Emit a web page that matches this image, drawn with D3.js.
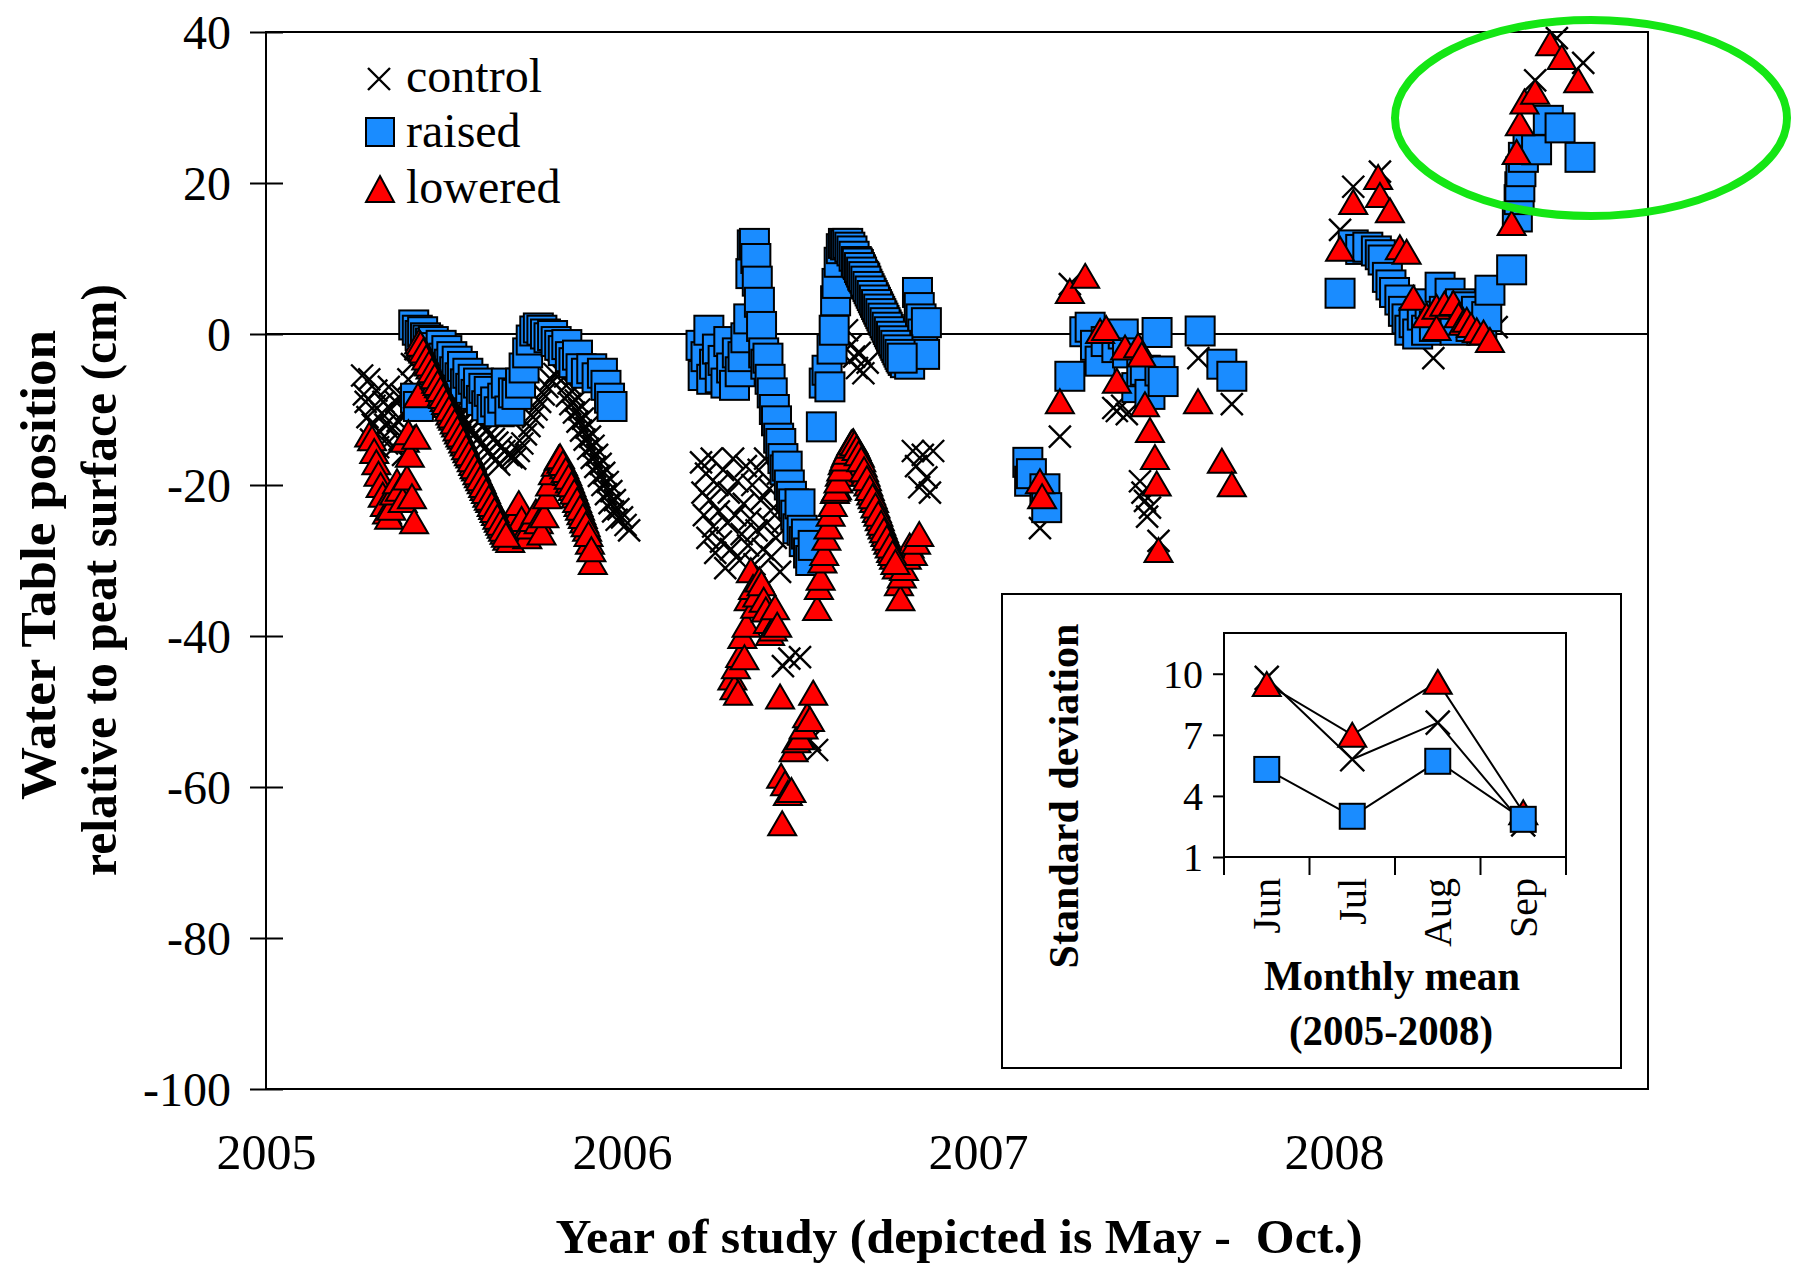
<!DOCTYPE html>
<html><head><meta charset="utf-8">
<script src="https://cdn.jsdelivr.net/npm/d3@7"></script>
<style>html,body{margin:0;padding:0;background:#fff}svg{display:block}</style>
</head><body>
<script>
// ---------------- DATA (t = fraction of year added to the season year; v = cm) ----------------
const years = [2005, 2006, 2007, 2008];
const yTicks = [-100, -80, -60, -40, -20, 0, 20, 40];
const seriesNames = ["control", "raised", "lowered"];

const control2005 = [[.270,-5.5],[.275,-8],[.280,-9],[.285,-11],[.290,-6],[.295,-14],[.300,-12],[.305,-9.5],[.310,-7.5],[.315,-15],[.320,-13],[.325,-10.5],[.330,-9],[.335,-12],[.340,-14.5],[.345,-7],[.350,-10],[.355,-12.5],[.360,-15],[.365,-9],[.370,-11.5],[.375,-14],[.380,-8],[.385,-16],[.390,-13.5],[.395,-10],[.400,-6],[.410,-4],[.420,-2],[.430,-0.5],[.440,0.3],[.450,-0.5],[.460,-1.5],[.470,-2.3],[.480,-3.2],[.490,-4],[.500,-4.8],[.510,-5.5],[.520,-6.2],[.530,-7],[.540,-7.8],[.550,-8.5],[.560,-9.2],[.570,-9.8],[.580,-10.4],[.590,-11],[.600,-11.6],[.610,-12.2],[.620,-12.8],[.630,-13.3],[.640,-13.9],[.650,-14.4],[.660,-15],[.670,-15.5],[.680,-16],[.690,-16.3],[.700,-16.5],[.710,-15.5],[.720,-14.5],[.730,-13.3],[.740,-12.2],[.750,-11],[.760,-10],[.770,-9],[.780,-8],[.790,-7],[.800,-6],[.810,-5.3],[.820,-4.8],[.830,-5],[.840,-5.6],[.850,-6.5],[.860,-7.6],[.870,-8.8],[.880,-10],[.890,-11.2],[.900,-12.4],[.910,-13.6],[.920,-14.8],[.930,-16],[.940,-17.2],[.950,-18.4],[.960,-19.6],[.970,-20.8],[.980,-22],[.990,-23.2],[1.000,-24.3],[1.010,-25.3],[1.020,-26],
  [.445,-2.5],[.455,-3.5],[.465,-4.3],[.475,-5.2],[.485,-6],[.495,-6.8],[.505,-7.6],[.515,-8.3],[.525,-9],[.535,-9.8],[.545,-10.6],[.555,-11.3],[.565,-12],[.575,-12.6],[.585,-13.3],[.595,-13.9],[.605,-14.5],[.615,-15.1],[.625,-15.6],[.635,-16.2],[.645,-16.7],[.655,-17.3],
  [.845,-8.2],[.855,-9.3],[.865,-10.4],[.875,-11.6],[.885,-12.8],[.895,-14],[.905,-15.2],[.915,-16.4],[.925,-17.6],[.935,-18.8],[.945,-20],[.955,-21.2],[.965,-22.4],[.975,-23.5],[.985,-24.6]];
const raised2005 = [[.415,1.2],[.420,-8.5],[.425,0.5],[.428,-9.6],[.433,-0.2],[.440,0.3],[.448,-0.5],[.455,-0.8],[.462,-1.2],[.470,-1.0],[.478,-1.8],[.485,-2.5],[.492,-1.5],[.500,-3.2],[.508,-2.2],[.515,-4],[.522,-3],[.530,-5],[.537,-3.6],[.545,-5.8],[.552,-4.3],[.560,-6.6],[.567,-5.2],[.575,-7.2],[.582,-6],[.590,-8],[.597,-6.5],[.605,-8.8],[.612,-7.2],[.620,-9.5],[.627,-7.6],[.635,-10],[.645,-9],[.655,-10.3],[.665,-8.5],[.675,-6.5],[.685,-10.2],[.695,-7.8],[.705,-8],[.715,-6.5],[.725,-4.5],[.735,-2.5],[.745,-0.8],[.755,0.4],[.765,0.8],[.775,0.5],[.785,0.0],[.795,-0.5],[.805,-0.2],[.815,-1.0],[.825,-1.5],[.835,-2.2],[.845,-1.4],[.855,-3.0],[.865,-3.8],[.875,-2.8],[.885,-4.6],[.900,-5.2],[.915,-4.6],[.930,-5.8],[.945,-5.2],[.955,-6.8],[.965,-8.5],[.972,-9.6]];
const lowered2005 = [[.290,-13.3],[.298,-13.8],[.304,-15.5],[.310,-17],[.316,-18.5],[.322,-20],[.328,-21.3],[.334,-22.5],[.340,-23.5],[.346,-24.2],[.352,-23],[.360,-21],[.368,-19.5],[.376,-20.5],[.384,-22],[.390,-14],[.396,-19],[.400,-13],[.404,-16],[.410,-21.5],[.416,-24.8],[.422,-13.6],[.427,-8.1],[.430,-1.0],[.438,-1.9],[.446,-2.5],[.454,-3.6],[.462,-4.3],[.470,-5.1],[.478,-6.2],[.486,-6.8],[.494,-7.9],[.502,-8.6],[.510,-9.4],[.518,-10.4],[.526,-11.1],[.534,-12.0],[.542,-12.9],[.550,-13.6],[.558,-14.5],[.566,-15.4],[.574,-16.1],[.582,-17.1],[.590,-17.8],[.598,-18.7],[.606,-19.5],[.614,-20.4],[.622,-21.3],[.630,-22.0],[.638,-22.9],[.646,-23.7],[.654,-24.6],[.662,-25.4],[.670,-26.2],[.678,-27.0],[.686,-27.3],[.694,-26.0],[.702,-24.0],[.710,-22.4],[.718,-24.5],[.726,-26.2],[.734,-26.8],[.742,-25.5],[.750,-24.5],[.758,-23.5],[.766,-24.8],[.774,-26.3],[.782,-24.0],[.790,-21.5],[.798,-19.8],[.806,-18.3],[.814,-17.2],[.822,-16.4],[.830,-16.8],[.838,-17.5],[.846,-18.4],[.854,-19.4],[.862,-20.4],[.870,-21.4],[.878,-22.5],[.886,-23.6],[.894,-24.7],[.902,-25.8],[.910,-27.5],[.918,-30.2],
  [.434,-1.3],[.442,-2.2],[.450,-3.1],[.458,-3.9],[.466,-4.8],[.474,-5.6],[.482,-6.5],[.490,-7.3],[.498,-8.2],[.506,-9.0],[.514,-9.9],[.522,-10.8],[.530,-11.6],[.538,-12.5],[.546,-13.3],[.554,-14.1],[.562,-15.0],[.570,-15.8],[.578,-16.6],[.586,-17.5],[.594,-18.3],[.602,-19.1],[.610,-20.0],[.618,-20.8],[.626,-21.7],[.634,-22.5],[.642,-23.3],[.650,-24.2],[.658,-25.0],[.666,-25.8],[.674,-26.6],
  [.826,-16.2],[.834,-17.1],[.842,-18],[.850,-18.9],[.858,-19.9],[.866,-20.9],[.874,-22],[.882,-23],[.890,-24.1],[.898,-25.2],[.906,-26.5],[.914,-28.5]];

const control2006 = [[.222,-17],[.226,-21],[.230,-24],[.236,-18.5],[.240,-27],[.246,-22],[.252,-16.5],[.256,-25.5],[.262,-29],[.268,-20],[.272,-23.5],[.278,-27.5],[.284,-18],[.290,-31],[.296,-25],[.300,-21],[.306,-28.5],[.312,-16.5],[.318,-24],[.324,-19.5],[.330,-30],[.336,-26.5],[.342,-22.5],[.348,-17.5],[.354,-28],[.360,-24.5],[.366,-20],[.372,-30.5],[.378,-26],[.384,-18],[.390,-22],[.396,-28.5],[.402,-16.5],[.408,-25],[.414,-20.5],[.420,-29.5],[.426,-23],[.432,-27],[.438,-18.5],[.444,-31.5],[.450,-25],[.452,-44],[.470,-43],[.500,-42.8],[.528,-53.8],[.548,-55.1],[.632,0.5],[.642,-1.5],[.652,-3],[.660,-4.5],[.668,-2.5],[.678,-5.2],[.690,-3.8],[.817,-15.5],[.826,-17.5],[.835,-20.3],[.845,-16],[.855,-19],[.865,-21],[.874,-15.5]];
const raised2006 = [[.222,-1.5],[.228,-5.5],[.236,-3],[.244,0.5],[.252,-6],[.260,-4],[.268,-2],[.276,-5.8],[.284,-3.5],[.292,-6.5],[.300,-1.0],[.308,-4.5],[.316,-6.8],[.324,-2.5],[.332,-5.0],[.340,-3.0],[.348,-0.5],[.356,2.0],[.362,8.0],[.366,11.8],[.372,12.0],[.376,10.0],[.380,7.0],[.386,4.2],[.392,1.0],[.398,-2.5],[.404,-4.0],[.410,-3.2],[.416,-6.0],[.422,-7.8],[.428,-10.0],[.434,-11.5],[.440,-13.8],[.446,-14.5],[.452,-16.5],[.458,-18],[.464,-17.5],[.470,-20],[.476,-21.5],[.482,-22.5],[.488,-24],[.494,-25.8],[.500,-22.5],[.506,-26],[.512,-27.5],[.518,-26.5],[.524,-29],[.530,-30],[.537,-28],[.560,-12.3],[.568,-6.5],[.576,-4.8],[.584,-7],[.590,-2],[.596,0.5],[.600,4.4],[.604,6.7],[.610,9.5],[.616,11.3],[.622,12.0],[.628,11.8],[.634,12.0],[.640,11.5],[.646,11.0],[.652,10.3],[.658,9.6],[.664,9.2],[.670,8.5],[.676,7.8],[.682,7.4],[.688,6.6],[.694,6.0],[.700,5.4],[.706,4.8],[.712,4.2],[.718,3.6],[.724,3.0],[.730,2.4],[.736,1.8],[.742,1.2],[.748,0.6],[.754,0.0],[.760,-0.6],[.766,-1.2],[.772,-1.8],[.778,-2.4],[.784,-3.0],[.790,-3.5],[.796,-3.8],[.802,-2.5],[.808,-4.0],[.830,5.5],[.835,3.5],[.840,2.0],[.845,0.0],[.850,-2.7],[.855,1.5],
  [.661,9.4],[.667,8.8],[.673,8.2],[.679,7.6],[.685,7.0],[.691,6.3],[.697,5.7],[.703,5.1],[.709,4.5],[.715,3.9],[.721,3.3],[.727,2.7],[.733,2.1],[.739,1.5],[.745,0.9],[.751,0.3],[.757,-0.3],[.763,-0.9],[.769,-1.5],[.775,-2.1],[.781,-2.7],[.787,-3.2]];
const lowered2006 = [[.310,-45.5],[.316,-46.8],[.320,-44],[.326,-47.5],[.332,-42.5],[.338,-40],[.344,-42.8],[.350,-38.5],[.356,-35],[.362,-31.3],[.368,-33.5],[.374,-36],[.380,-34.5],[.386,-32.5],[.392,-33],[.398,-35.2],[.404,-36.5],[.410,-38],[.416,-39.6],[.424,-39],[.430,-36.2],[.436,-38.5],[.444,-48],[.447,-58.5],[.450,-64.8],[.458,-59.5],[.466,-60.8],[.476,-60.4],[.482,-55],[.490,-53.8],[.500,-53.4],[.510,-52],[.520,-50.5],[.528,-51],[.537,-47.5],[.548,-36.3],[.553,-33.5],[.558,-32.3],[.563,-30],[.568,-29],[.574,-27],[.580,-25.5],[.586,-23.8],[.592,-22.5],[.598,-20.8],[.604,-20.3],[.612,-18.5],[.620,-17],[.628,-16],[.636,-15.2],[.644,-14.4],[.650,-14.2],[.656,-14.8],[.662,-15.5],[.668,-16],[.676,-17.3],[.684,-18.5],[.692,-19.8],[.700,-21],[.708,-22],[.716,-23.3],[.724,-24.4],[.732,-25.5],[.740,-26.5],[.748,-27.5],[.756,-28.6],[.764,-29.5],[.772,-30.8],[.778,-33],[.782,-35],[.786,-32],[.792,-31],[.800,-29.5],[.808,-28],[.817,-29],[.826,-27.5],[.835,-26.5],
  [.601,-20.5],[.608,-19.4],[.616,-17.8],[.624,-16.5],[.632,-15.6],[.640,-14.8],[.647,-14.3],[.653,-14.5],[.659,-15.1],[.665,-15.8],[.672,-16.6],[.680,-17.9],[.688,-19.1],[.696,-20.4],[.704,-21.5],[.712,-22.7],[.720,-23.8],[.728,-25],[.736,-26],[.744,-27],[.752,-28],[.760,-29],[.768,-30.2]];

const control2007 = [[.174,-25.7],[.230,-13.6],[.258,6.6],[.380,-9.8],[.390,-10.2],[.405,-9.5],[.418,-10.6],[.455,-19.5],[.462,-21],[.469,-22.1],[.475,-24.2],[.483,-23],[.507,-27.4],[.619,-3.2],[.713,-9.3]];
const raised2007 = [[.140,-17.0],[.145,-19.5],[.150,-18.5],[.188,-20.5],[.193,-23],[.258,-5.6],[.300,0.3],[.315,0.9],[.330,-1.5],[.343,-3.6],[.360,-1.0],[.390,-1.8],[.408,0.0],[.420,-2.5],[.446,-7.1],[.460,-5.0],[.470,-4.8],[.483,-8.0],[.503,0.2],[.511,-4.9],[.520,-6.3],[.624,0.4],[.685,-4.0],[.713,-5.6]];
const lowered2007 = [[.174,-19.5],[.180,-21.5],[.230,-8.9],[.258,5.7],[.301,7.7],[.343,0.4],[.360,0.8],[.390,-6.2],[.413,-1.8],[.450,-1.5],[.460,-2.7],[.469,-9.3],[.483,-12.7],[.497,-16.3],[.502,-19.8],[.507,-28.6],[.618,-8.9],[.685,-16.8],[.713,-19.9]];

const control2008 = [[.017,13.8],[.054,19.5],[.129,21.5],[.279,-3.2],[.457,0.9],[.565,33.6],[.626,39.2],[.700,35.9]];
const raised2008 = [[.017,5.4],[.054,11.8],[.075,11.2],[.095,11.5],[.119,11.0],[.130,10.5],[.138,9.8],[.150,7.5],[.160,6.5],[.170,5.5],[.185,4.5],[.195,3.0],[.205,2.0],[.213,0.5],[.225,1.5],[.235,0.0],[.248,2.5],[.260,0.5],[.270,4.0],[.282,1.0],[.298,6.2],[.310,3.0],[.326,5.4],[.340,0.5],[.355,4.0],[.373,3.6],[.385,1.0],[.400,3.0],[.415,0.5],[.429,2.3],[.438,5.8],[.499,8.5],[.515,15.5],[.520,17.8],[.522,19.5],[.525,21.5],[.532,23.4],[.545,24.5],[.569,24.4],[.602,28.3],[.635,27.3],[.691,23.4]];
const lowered2008 = [[.017,11.3],[.054,17.5],[.124,20.8],[.129,18.4],[.157,16.4],[.185,11.5],[.204,10.9],[.223,4.8],[.260,2.5],[.288,3.6],[.288,0.8],[.310,4.0],[.335,4.1],[.350,2.5],[.362,1.5],[.373,1.9],[.385,1.2],[.401,0.5],[.420,0.2],[.438,-0.8],[.499,14.7],[.513,24.1],[.522,27.9],[.535,30.8],[.565,32.1],[.607,38.5],[.640,36.7],[.686,33.6]];

// inset: standard deviation of monthly means (2005-2008)
const months = ["Jun", "Jul", "Aug", "Sep"];
const sdControl = [9.8, 5.8, 7.6, 2.6];
const sdRaised = [5.3, 3.0, 5.7, 2.85];
const sdLowered = [9.5, 7.0, 9.6, 3.2];
const insetTicks = [1, 4, 7, 10];

// ---------------- DRAWING ----------------
const W = 1796, H = 1274;
const BLUE = "#1a8cff", RED = "#ff0000";
const FONT = "'Liberation Serif','Times New Roman',serif";
const fmt = d => String(d);
const svg = d3.select("body").append("svg").attr("width", W).attr("height", H);
svg.append("rect").attr("width", W).attr("height", H).attr("fill", "#fff");

const x = d3.scaleLinear().domain([2005, 2008.882]).range([266, 1648]);
const y = d3.scaleLinear().domain([-100, 40]).range([1089, 32]);

// frame
svg.append("rect").attr("x", x(2005)).attr("y", y(40)).attr("width", x(2008.882) - x(2005)).attr("height", y(-100) - y(40))
  .attr("fill", "none").attr("stroke", "#000").attr("stroke-width", 2);
// zero line
svg.append("line").attr("x1", x(2005)).attr("x2", x(2008.882)).attr("y1", y(0)).attr("y2", y(0)).attr("stroke", "#000").attr("stroke-width", 2);

// y axis
const ya = svg.append("g").attr("transform", `translate(${x(2005)},0)`)
  .call(d3.axisLeft(y).tickValues(yTicks).tickSize(16).tickPadding(19).tickFormat(fmt));
ya.select(".domain").remove();
ya.selectAll(".tick line").attr("x2", -16).attr("x1", 17).attr("stroke-width", 2);
ya.selectAll(".tick text").attr("font-family", FONT).attr("font-size", 48).attr("fill", "#000").attr("dy", "0.34em");

// x axis
const xa = svg.append("g").attr("transform", `translate(0,${y(-100)})`)
  .call(d3.axisBottom(x).tickValues(years).tickSize(0).tickPadding(44).tickFormat(fmt));
xa.select(".domain").remove();
xa.selectAll(".tick text").attr("font-family", FONT).attr("font-size", 50).attr("fill", "#000");

// axis titles
svg.append("text").attr("transform", "translate(55,565) rotate(-90)").attr("text-anchor", "middle")
  .attr("font-family", FONT).attr("font-weight", "bold").attr("font-size", 50)
  .attr("textLength", 470).attr("lengthAdjust", "spacingAndGlyphs").text("Water Table position");
svg.append("text").attr("transform", "translate(116,580) rotate(-90)").attr("text-anchor", "middle")
  .attr("font-family", FONT).attr("font-weight", "bold").attr("font-size", 50)
  .attr("textLength", 592).attr("lengthAdjust", "spacingAndGlyphs").text("relative to peat surface (cm)");
svg.append("text").attr("x", 959).attr("y", 1253).attr("text-anchor", "middle")
  .attr("font-family", FONT).attr("font-weight", "bold").attr("font-size", 48)
  .attr("textLength", 807).attr("lengthAdjust", "spacingAndGlyphs").attr("xml:space", "preserve")
  .text("Year of study (depicted is May -  Oct.)");

// marker helpers
function crossPath(s) { const h = s / 2; return `M${-h},${-h}L${h},${h}M${-h},${h}L${h},${-h}`; }
function triPath(w, h) { return `M0,${-h / 2}L${w / 2},${h / 2}L${-w / 2},${h / 2}Z`; }

function drawControl(g, data, yr, s) {
  g.selectAll(null).data(data).join("path")
    .attr("transform", d => `translate(${x(yr + d[0])},${y(d[1])})`)
    .attr("d", crossPath(s)).attr("stroke", "#000").attr("stroke-width", 2.4).attr("fill", "none");
}
function drawRaised(g, data, yr, s) {
  g.selectAll(null).data(data).join("rect")
    .attr("x", d => x(yr + d[0]) - s / 2).attr("y", d => y(d[1]) - s / 2)
    .attr("width", s).attr("height", s).attr("fill", BLUE).attr("stroke", "#000").attr("stroke-width", 2);
}
function drawLowered(g, data, yr, w, h) {
  g.selectAll(null).data(data).join("path")
    .attr("transform", d => `translate(${x(yr + d[0])},${y(d[1])})`)
    .attr("d", triPath(w, h)).attr("fill", RED).attr("stroke", "#000").attr("stroke-width", 2).attr("stroke-linejoin", "miter");
}

const gC = svg.append("g"), gR = svg.append("g"), gL = svg.append("g");
[[control2005, 2005], [control2006, 2006], [control2007, 2007], [control2008, 2008]].forEach(([d, yr]) => drawControl(gC, d, yr, 22));
[[raised2005, 2005], [raised2006, 2006], [raised2007, 2007], [raised2008, 2008]].forEach(([d, yr]) => drawRaised(gR, d, yr, 29));
[[lowered2005, 2005], [lowered2006, 2006], [lowered2007, 2007], [lowered2008, 2008]].forEach(([d, yr]) => drawLowered(gL, d, yr, 28, 24));

// legend
const lg = svg.append("g");
lg.append("path").attr("transform", "translate(379,79)").attr("d", crossPath(22)).attr("stroke", "#000").attr("stroke-width", 2.4);
lg.append("rect").attr("x", 366).attr("y", 118).attr("width", 28).attr("height", 28).attr("fill", BLUE).attr("stroke", "#000").attr("stroke-width", 2);
lg.append("path").attr("transform", "translate(380,189)").attr("d", triPath(28, 26)).attr("fill", RED).attr("stroke", "#000").attr("stroke-width", 2);
const legendY = [92, 147, 203];
seriesNames.forEach((n, i) => lg.append("text").attr("x", 406).attr("y", legendY[i])
  .attr("font-family", FONT).attr("font-size", 48).attr("fill", "#000").text(n));

// ---------------- INSET ----------------
const ins = svg.append("g");
ins.append("rect").attr("x", 1002).attr("y", 594).attr("width", 619).attr("height", 474)
  .attr("fill", "#fff").attr("stroke", "#000").attr("stroke-width", 2);
const xi = d3.scaleBand().domain(months).range([1224, 1566]);
const yi = d3.scaleLinear().domain([1, 12]).range([857, 633]);
ins.append("rect").attr("x", 1224).attr("y", yi(12)).attr("width", 342).attr("height", yi(1) - yi(12))
  .attr("fill", "none").attr("stroke", "#000").attr("stroke-width", 2);
const yia = ins.append("g").attr("transform", "translate(1224,0)")
  .call(d3.axisLeft(yi).tickValues(insetTicks).tickSize(11).tickPadding(10).tickFormat(fmt));
yia.select(".domain").remove();
yia.selectAll(".tick line").attr("stroke-width", 2);
yia.selectAll(".tick text").attr("font-family", FONT).attr("font-size", 40).attr("fill", "#000").attr("dy", "0.34em");
// category boundary ticks
const bounds = months.map(m => xi(m)).concat([xi.range()[1]]);
ins.selectAll(null).data(bounds).join("line").attr("x1", d => d).attr("x2", d => d)
  .attr("y1", yi(1)).attr("y2", yi(1) + 18).attr("stroke", "#000").attr("stroke-width", 2);
ins.selectAll(null).data(months).join("text")
  .attr("transform", d => `translate(${xi(d) + xi.bandwidth() / 2},${yi(1) + 21}) rotate(-90)`)
  .attr("text-anchor", "end").attr("dominant-baseline", "central")
  .attr("font-family", FONT).attr("font-size", 40).attr("fill", "#000").text(d => d);
// titles
ins.append("text").attr("transform", "translate(1078,796) rotate(-90)").attr("text-anchor", "middle")
  .attr("font-family", FONT).attr("font-weight", "bold").attr("font-size", 42)
  .attr("textLength", 345).attr("lengthAdjust", "spacingAndGlyphs").text("Standard deviation");
ins.append("text").attr("x", 1392).attr("y", 990).attr("text-anchor", "middle")
  .attr("font-family", FONT).attr("font-weight", "bold").attr("font-size", 42)
  .attr("textLength", 256).attr("lengthAdjust", "spacingAndGlyphs").text("Monthly mean");
ins.append("text").attr("x", 1391).attr("y", 1045).attr("text-anchor", "middle")
  .attr("font-family", FONT).attr("font-weight", "bold").attr("font-size", 42)
  .attr("textLength", 204).attr("lengthAdjust", "spacingAndGlyphs").text("(2005-2008)");
// lines
const ln = d3.line().x((d, i) => xi(months[i]) + xi.bandwidth() / 2).y(d => yi(d));
[sdRaised, sdControl, sdLowered].forEach(s => ins.append("path").attr("d", ln(s)).attr("fill", "none").attr("stroke", "#000").attr("stroke-width", 2));
const cx = (i) => xi(months[i]) + xi.bandwidth() / 2;
ins.selectAll(null).data(sdControl).join("path").attr("transform", (d, i) => `translate(${cx(i)},${yi(d)})`)
  .attr("d", crossPath(24)).attr("stroke", "#000").attr("stroke-width", 2.4);
ins.selectAll(null).data(sdLowered).join("path").attr("transform", (d, i) => `translate(${cx(i)},${yi(d)})`)
  .attr("d", triPath(28, 24)).attr("fill", RED).attr("stroke", "#000").attr("stroke-width", 2);
ins.selectAll(null).data(sdRaised).join("rect").attr("x", (d, i) => cx(i) - 12.5).attr("y", d => yi(d) - 12.5)
  .attr("width", 25).attr("height", 25).attr("fill", BLUE).attr("stroke", "#000").attr("stroke-width", 2);

// green highlight ellipse (annotation in reference)
svg.append("ellipse").attr("cx", 1591).attr("cy", 118).attr("rx", 196).attr("ry", 98)
  .attr("fill", "none").attr("stroke", "#14e614").attr("stroke-width", 8);
</script>
</body></html>
